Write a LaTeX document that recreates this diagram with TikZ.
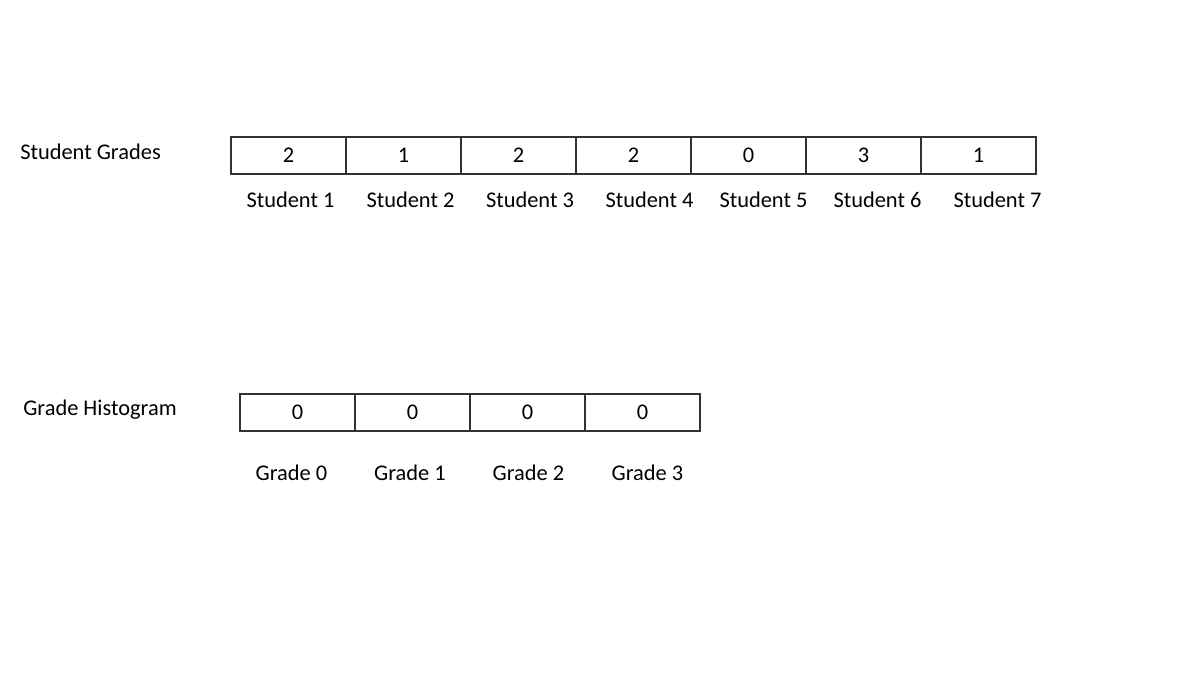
\documentclass[tikz,border=0pt]{standalone}
\usepackage{fontspec}
\setmainfont{Carlito}
\begin{document}
\begin{tikzpicture}[x=0.75pt,y=-0.75pt,
  cell/.style={draw=black!80,line width=1pt,minimum width=86.25pt,minimum height=27.75pt,inner sep=0pt,anchor=center,font=\fontsize{16.8}{20}\selectfont},
  lab/.style={inner sep=0pt,anchor=center,font=\fontsize{16.8}{20}\selectfont},
  title/.style={inner sep=0pt,anchor=west,font=\fontsize{16.8}{20}\selectfont}]
\useasboundingbox (0,0) rectangle (1200,675);
\node[title] (t1) at (20,152) {Student Grades};
\foreach \v/\lx [count=\i] in {2/290.5,1/410.5,2/530,2/649.5,0/763.5,3/877.5,1/997.5}{
  \node[cell] (s\i) at (231+115*\i-57.5,155.5) {\v};
  \node[lab] (sl\i) at (\lx,200) {Student \i};
}
\node[title] (t2) at (23,410) {Grade Histogram};
\foreach \v/\lx [count=\i] in {0/291.5,1/410,2/528.5,3/647.5}{
  \node[cell] (g\i) at (240+115*\i-57.5,412.5) {0};
  \node[lab] (gl\i) at (\lx,473) {Grade \v};
}
\end{tikzpicture}
\end{document}
